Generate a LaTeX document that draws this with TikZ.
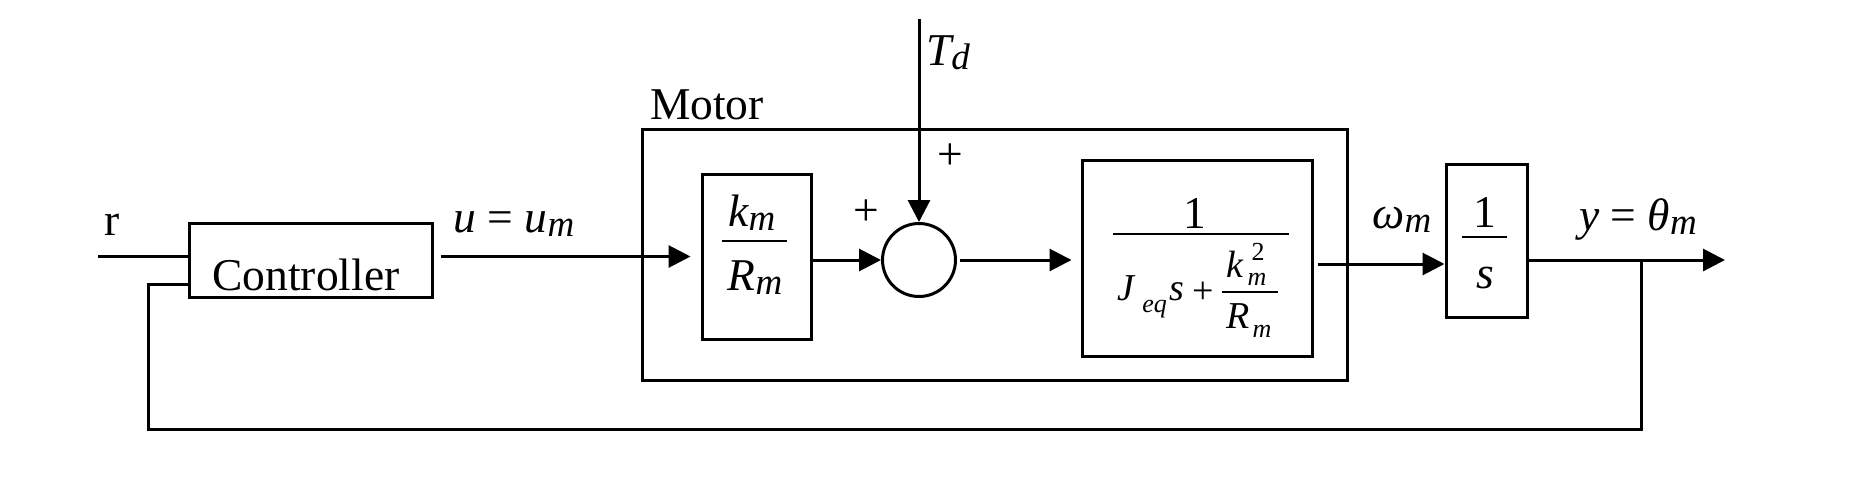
\documentclass[tikz,border=0pt]{standalone}
\usepackage{fontspec}
\setmainfont{Liberation Serif}
\usetikzlibrary{arrows.meta}
\newcommand{\lsub}[1]{\raisebox{-0.1em}{\fontsize{18.5}{18.5}\selectfont #1}}
\begin{document}
\begin{tikzpicture}[x=0.5pt,y=-0.5pt,
  blk/.style={draw, line width=1.5pt, inner sep=0pt},
  wire/.style={line width=1.5pt},
  bar/.style={line width=1.3pt},
  arr/.style={wire, -{Triangle[length=11pt,width=11pt]}},
  lbl/.style={inner sep=0pt, anchor=base, font=\fontsize{22.75}{26}\selectfont},
  sml/.style={inner sep=0pt, anchor=base west, font=\fontsize{19}{22}\selectfont\itshape},
  tny/.style={inner sep=0pt, anchor=base, font=\fontsize{13}{15}\selectfont\itshape},
]
\useasboundingbox (0,0) rectangle (1858,478);

% blocks
\node[blk, minimum width=121.5pt, minimum height=37pt] (ctrl) at (310.5,260) {};
\node[blk, minimum width=352.5pt, minimum height=125.5pt] (motor) at (994.5,254.5) {};
\node[blk, minimum width=54.5pt, minimum height=82.5pt] (km) at (756.5,256.5) {};
\node[blk, circle, minimum size=36.5pt] (sum) at (919,260) {};
\node[blk, minimum width=115pt, minimum height=98pt] (blk2) at (1197,258) {};
\node[blk, minimum width=40.5pt, minimum height=76.5pt] (integ) at (1486.5,240.5) {};

% texts
\node[lbl] (rlbl) at (112,235) {r};
\node[lbl] (ctrltxt) at (306,290) {Controller};
\node[lbl] (ulbl) at (514,232) {\itshape u \upshape= \itshape u\lsub{m}};
\node[lbl] (motorlbl) at (707,119) {Motor};
\node[lbl] (tdlbl) at (948,65) {\itshape T\lsub{d}};
\node[lbl, anchor=center] (plus1) at (866,213) {+};
\node[lbl, anchor=center] (plus2) at (950,157) {+};
\node[lbl] (kmnum) at (752,226) {\itshape k\lsub{m}};
\node[lbl] (rmden) at (755,290) {\itshape R\lsub{m}};
\draw[bar] (722,241) -- (787,241);
\node[lbl] (omlbl) at (1402,228) {\itshape ω\lsub{m}};
\node[lbl] (one2) at (1195,228) {1};
\draw[bar] (1113,234) -- (1289,234);
\node[sml] (J) at (1117,300) {J};
\node[tny, anchor=base west] (eq) at (1142,312) {eq};
\node[sml] (s2) at (1169,300) {s};
\node[inner sep=0pt, font=\fontsize{19}{22}\selectfont] (plus3) at (1203,293) {+};
\node[sml] (k2) at (1226,277) {k};
\node[tny, font=\fontsize{13}{15}\selectfont\upshape] (sq) at (1258,260) {2};
\node[tny] (km2) at (1257,285) {m};
\draw[line width=0.8pt] (1222,292) -- (1278,292);
\node[sml] (R2) at (1226,328) {R};
\node[tny] (rm2) at (1262,337) {m};
\node[lbl] (one3) at (1485,227) {1};
\draw[bar] (1462,237) -- (1507,237);
\node[lbl] (s3) at (1485,288) {\itshape s};
\node[lbl] (ylbl) at (1638,230) {\itshape y \upshape= \itshape θ\lsub{m}};

% connectors
\coordinate (rin) at (98,256);
\draw[wire] (rin) -- (rin -| ctrl.west);
\draw[arr] ([xshift=3.5pt]ctrl.east |- km.west) -- ([xshift=-5pt]km.west);
\draw[arr] (km.east |- sum.west) -- (sum.west);
\coordinate (tdin) at (919,19);
\draw[arr] (tdin) -- (sum.north);
\draw[arr] ([xshift=1.5pt]sum.east) -- ([xshift=-4.5pt]blk2.west |- sum.east);
\coordinate (o1) at ([xshift=2pt,yshift=-3pt]blk2.east);
\draw[arr] (o1) -- (o1 -| integ.west);
\coordinate (yout) at (1725,260);
\coordinate (tap) at (1641,260);
\draw[arr] (integ.east |- yout) -- (yout);
\coordinate (fbl) at (148,429);
\coordinate (fbin) at (189,284);
\draw[wire] (tap) |- (fbl) |- (fbin);
\end{tikzpicture}
\end{document}
